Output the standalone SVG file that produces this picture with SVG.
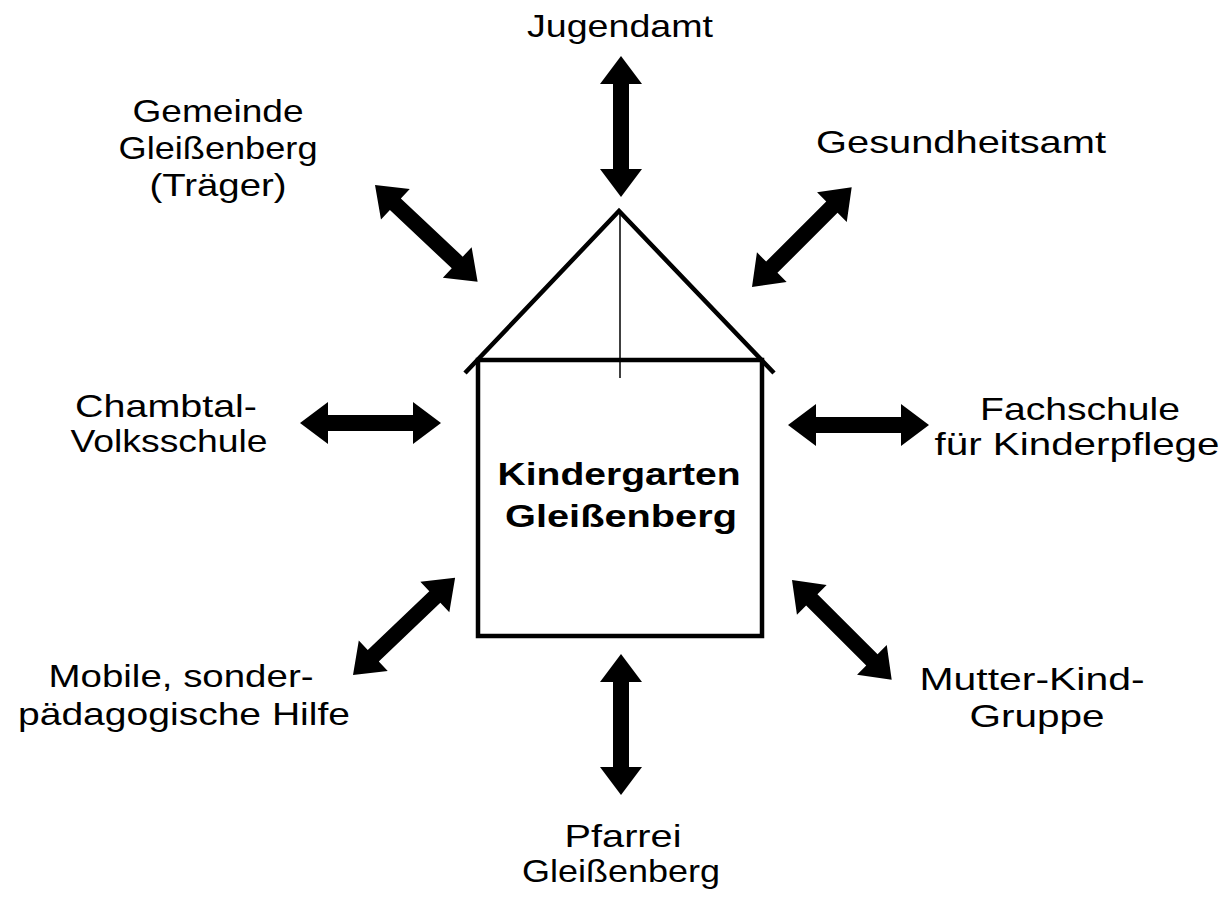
<svg xmlns="http://www.w3.org/2000/svg" xmlns:xlink="http://www.w3.org/1999/xlink" width="1231" height="899" viewBox="0 0 1231 899">
<style>
text{font-family:"Liberation Sans",Arial,sans-serif;font-size:32px;fill:#000;text-anchor:middle}
.b{font-weight:bold}
.house{fill:none;stroke:#000;stroke-width:4.5}
.arr{fill:#000}
</style>
<defs>
<path id="arr" d="M0,0 L28,-21 L28,-8 L113,-8 L113,-21 L141,0 L113,21 L113,8 L28,8 L28,21 Z"/>
</defs>
<rect width="1231" height="899" fill="#fff"/>
<g id="kindergarten">
<rect class="house" x="478" y="360" width="284" height="276"/>
<polyline class="house" points="465,373 619,211 774,373"/>
<line x1="620" y1="211" x2="620" y2="378" stroke="#000" stroke-width="1.5"/>
<text class="b" x="619" y="485" textLength="243" lengthAdjust="spacingAndGlyphs">Kindergarten</text>
<text class="b" x="621" y="527" textLength="232" lengthAdjust="spacingAndGlyphs">Gleißenberg</text>
</g>
<g id="jugendamt"><text x="620" y="37" textLength="186" lengthAdjust="spacingAndGlyphs">Jugendamt</text></g>
<g id="gemeinde">
<text x="218" y="122" textLength="171" lengthAdjust="spacingAndGlyphs">Gemeinde</text>
<text x="218" y="159" textLength="199" lengthAdjust="spacingAndGlyphs">Gleißenberg</text>
<text x="218" y="196" textLength="137" lengthAdjust="spacingAndGlyphs">(Träger)</text>
</g>
<g id="gesundheitsamt"><text x="961" y="153" textLength="290" lengthAdjust="spacingAndGlyphs">Gesundheitsamt</text></g>
<g id="volksschule">
<text x="166" y="417" textLength="182" lengthAdjust="spacingAndGlyphs">Chambtal-</text>
<text x="169" y="452" textLength="197" lengthAdjust="spacingAndGlyphs">Volksschule</text>
</g>
<g id="fachschule">
<text x="1080" y="420" textLength="200" lengthAdjust="spacingAndGlyphs">Fachschule</text>
<text x="1077" y="455" textLength="285" lengthAdjust="spacingAndGlyphs">für Kinderpflege</text>
</g>
<g id="mobile">
<text x="181" y="687" textLength="265" lengthAdjust="spacingAndGlyphs">Mobile, sonder-</text>
<text x="184" y="725" textLength="332" lengthAdjust="spacingAndGlyphs">pädagogische Hilfe</text>
</g>
<g id="mutterkind">
<text x="1032" y="690" textLength="225" lengthAdjust="spacingAndGlyphs">Mutter-Kind-</text>
<text x="1037" y="727" textLength="135" lengthAdjust="spacingAndGlyphs">Gruppe</text>
</g>
<g id="pfarrei">
<text x="623" y="847" textLength="117" lengthAdjust="spacingAndGlyphs">Pfarrei</text>
<text x="621" y="882" textLength="198" lengthAdjust="spacingAndGlyphs">Gleißenberg</text>
</g>
<g id="connectors" class="arr">
<use xlink:href="#arr" href="#arr" transform="translate(621,56) rotate(90)"/>
<use xlink:href="#arr" href="#arr" transform="translate(621,654) rotate(90)"/>
<use xlink:href="#arr" href="#arr" transform="translate(300,423)"/>
<use xlink:href="#arr" href="#arr" transform="translate(788,425)"/>
<use xlink:href="#arr" href="#arr" transform="translate(375,185) rotate(43.3)"/>
<use xlink:href="#arr" href="#arr" transform="translate(752,287) rotate(-45)"/>
<use xlink:href="#arr" href="#arr" transform="translate(353,675) rotate(-43.6)"/>
<use xlink:href="#arr" href="#arr" transform="translate(792,580) rotate(45)"/>
</g>
</svg>
